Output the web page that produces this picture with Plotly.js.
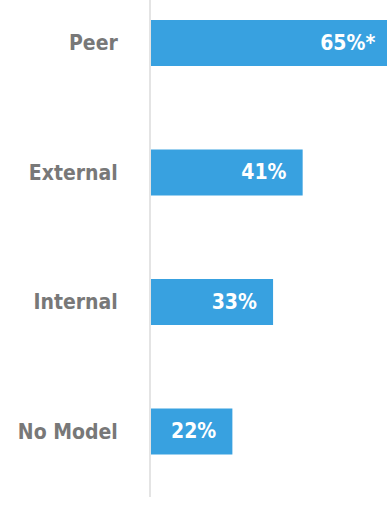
<!DOCTYPE html>
<html>
<head>
<meta charset="utf-8">
<script src="https://cdn.plot.ly/plotly-3.0.1.min.js"></script>
<style>html,body{margin:0;padding:0;background:#fff;}#chart{width:387px;height:514px;}</style>
</head>
<body>
<div id="chart"></div>
<script>
const categories = ['Peer', 'External', 'Internal', 'No Model'];
const values = [65, 41, 33, 22];
const valueLabels = ['65%*', '41%', '33%', '22%'];

const FONT = 'DejaVu Sans Condensed, Liberation Sans Narrow, sans-serif';

const trace = {
  type: 'bar',
  orientation: 'h',
  y: categories,
  x: values,
  text: valueLabels.map(s => s + '\u00a0\u00a0'),
  textposition: 'inside',
  insidetextanchor: 'end',
  constraintext: 'none',
  textfont: {family: FONT, size: 21, color: '#ffffff', weight: 'bold'},
  marker: {color: '#38a1e0', line: {width: 0}},
  width: 0.355,
  hoverinfo: 'none',
  cliponaxis: true
};

const layout = {
  width: 387,
  height: 514,
  margin: {l: 151, r: 0, t: 0, b: 17, pad: 0},
  paper_bgcolor: '#ffffff',
  plot_bgcolor: '#ffffff',
  showlegend: false,
  xaxis: {
    range: [0, 63.8],
    showgrid: false,
    zeroline: false,
    showline: false,
    showticklabels: false,
    ticks: ''
  },
  yaxis: {
    type: 'category',
    range: [3.506, -0.332],
    showgrid: false,
    zeroline: false,
    showline: true,
    linecolor: '#e4e4e4',
    linewidth: 2,
    ticks: '',
    ticklabelstandoff: 27,
    tickfont: {family: FONT, size: 21, color: '#787878', weight: 'bold'}
  }
};

Plotly.newPlot('chart', [trace], layout, {displayModeBar: false, staticPlot: true});
</script>
</body>
</html>
